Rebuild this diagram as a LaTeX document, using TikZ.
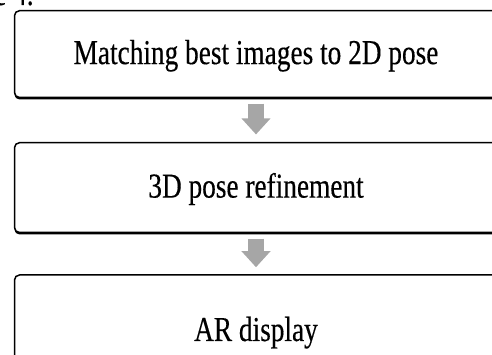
\documentclass[tikz,border=0pt]{standalone}
\usepackage{fontspec}
\usepackage{tikz}
\usetikzlibrary{arrows.meta,shadows}

\newfontfamily\boxfont[FakeStretch=0.78,FakeBold=0.3]{Liberation Serif}
\definecolor{arrowgray}{HTML}{A6A6A6}

\tikzset{
	stepbox/.style={draw, line width=1.5pt, rounded corners=5pt, fill=white,
		minimum width=483pt, text height=26pt, text depth=6pt,
		font=\boxfont\fontsize{35}{40}\selectfont,
		drop shadow={shadow xshift=0pt, shadow yshift=-2pt, fill=black, opacity=1}},
	flowarrow/.style={arrowgray, line width=16pt, -{Triangle[width=28pt,length=16pt]}}
}

\begin{document}
\begin{tikzpicture}[x=1pt,y=1pt]
	\useasboundingbox (0,0) rectangle (492,355);

	% Caption left over at the top
	\node[anchor=base west, inner sep=0pt, font=\boxfont\fontsize{35}{40}\selectfont] (caption) at (-6,350) {e 4.};

	% Draw boxes
	\node[stepbox, minimum height=86.8pt] (match) at (256,300.9) {Matching best images to 2D pose};
	\node[stepbox, minimum height=89.8pt] (refine) at (256,167.4) {3D pose refinement};
	\node[stepbox, minimum height=112pt] (display) at (256,24) {AR display};

	% Arrows
	\draw[flowarrow] ([yshift=-5.5pt]match.south) -- ([yshift=7.5pt]refine.north);
	\draw[flowarrow] ([yshift=-5.5pt]refine.south) -- ([yshift=7pt]display.north);

\end{tikzpicture}
\end{document}
